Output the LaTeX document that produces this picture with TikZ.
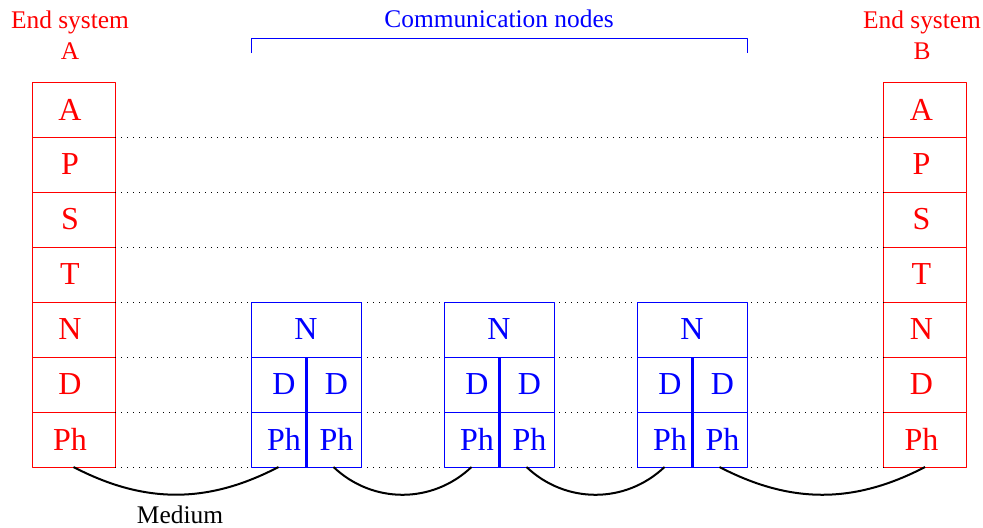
\documentclass[tikz,border=0pt]{standalone}
\usepackage{fontspec}
\setmainfont{Liberation Serif}
\begin{document}
\begin{tikzpicture}[x=0.5pt,y=0.5pt,line join=round,
	cell/.style={draw,line width=0.5pt,outer sep=0pt,minimum width=41.5pt,minimum height=27.5pt,inner sep=0pt,font=\fontsize{16}{16}\selectfont},
	endcell/.style={cell,red,execute at end node={\kern3.5pt}},
	routercell/.style={cell,blue,minimum width=55pt},
	halfcell/.style={cell,blue,minimum width=27.5pt},
	leftcell/.style={halfcell,execute at begin node={\kern5.5pt}},
	rightcell/.style={halfcell,execute at begin node={\kern3pt}},
	layer/.style={dash pattern=on 0.5pt off 2.5pt},
	medium/.style={line width=1pt},
	lbl/.style={font=\fontsize{12.7}{15}\selectfont,anchor=base}]
	\useasboundingbox (0,0) rectangle (983,527);
	% end systems
	\foreach \l [count=\i] in {A,P,S,T,N,D,Ph}
	{\node[endcell] (a\i) at (73.5,472.5-55*\i) {\l};
		\node[endcell] (b\i) at (925,472.5-55*\i) {\l};}
	\node[lbl,red] (endA) at (70,499) {End system};
	\node[lbl,red] (nameA) at (70,468) {A};
	\node[lbl,red] (endB) at (922,499) {End system};
	\node[lbl,red] (nameB) at (922,468) {B};
	% layer boundaries
	\foreach \i in {1,...,7}
	{\draw[layer] (a\i.south east)--(b\i.south west);}
	% communication nodes
	\foreach \k in {1,2,3}
	{\node[routercell] (n\k) at (113+193*\k,197.5) {N};
		\node[leftcell,anchor=north west] (dl\k) at (n\k.south west) {D};
		\node[rightcell,anchor=north east] (dr\k) at (n\k.south east) {D};
		\node[leftcell,anchor=north] (pl\k) at (dl\k.south) {Ph};
		\node[rightcell,anchor=north] (pr\k) at (dr\k.south) {Ph};
		\draw[blue,line width=1.5pt] (dl\k.north east)--(pl\k.south east);}
	\node[lbl,blue] (comm) at (499,500) {Communication nodes};
	\draw[blue,line width=0.5pt] (n1.north west |- 0,474) |- (n3.north east |- 0,488.5)--(n3.north east |- 0,474);
	% medium
	\draw[medium] (a7.south) to[out=-27.5,in=-152.5] (pl1.south);
	\draw[medium] (pr1.south) to[out=-43.5,in=-136.5] (pl2.south);
	\draw[medium] (pr2.south) to[out=-43.5,in=-136.5] (pl3.south);
	\draw[medium] (pr3.south) to[out=-27.5,in=-152.5] (b7.south);
	\node[lbl] (medium) at (180,4) {Medium};
\end{tikzpicture}
\end{document}
